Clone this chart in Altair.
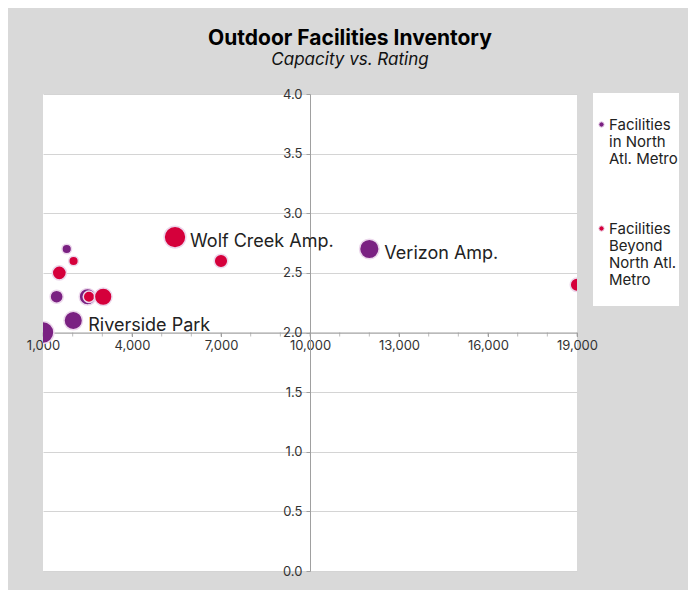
import altair as alt
import pandas as pd

series_names = ["Facilities in North Atl. Metro", "Facilities Beyond North Atl. Metro"]
series_colors = ["#7a2182", "#d5003b"]

# Facilities in North Atl. Metro
north_capacity = [1000, 1800, 1460, 2500, 2020, 12000]
north_rating = [2.0, 2.7, 2.3, 2.3, 2.1, 2.7]
north_bubble = [360, 70, 130, 210, 260, 290]
north_label = ["", "", "", "", "Riverside Park", "Verizon Amp."]

# Facilities Beyond North Atl. Metro
beyond_capacity = [2030, 1550, 2550, 3030, 5450, 7000, 19000]
beyond_rating = [2.6, 2.5, 2.3, 2.3, 2.8, 2.6, 2.4]
beyond_bubble = [70, 150, 100, 235, 360, 140, 140]
beyond_label = ["", "", "", "", "Wolf Creek Amp.", "", ""]

x_label_values = [1000, 4000, 7000, 10000, 13000, 16000, 19000]
x_minor_ticks = list(range(1000, 19001, 1000))
y_ticks = [0, 0.5, 1.0, 1.5, 2.0, 2.5, 3.0, 3.5, 4.0]
x_axis_crossing_rating = 2.0

rows = []
for name, caps, rats, bub, labs in [
    (series_names[0], north_capacity, north_rating, north_bubble, north_label),
    (series_names[1], beyond_capacity, beyond_rating, beyond_bubble, beyond_label),
]:
    for c, r, b, l in zip(caps, rats, bub, labs):
        rows.append({"series": name, "capacity": c, "rating": r, "bubble": b, "label": l})
df = pd.DataFrame(rows)
ticks_df = pd.DataFrame({"capacity": x_minor_ticks, "rating": [x_axis_crossing_rating] * len(x_minor_ticks)})

FONT = "Inter"
AXIS_GRAY = "#a0a0a0"

x_scale = alt.Scale(domain=[1000, 19000], nice=False, zero=False)
y_scale = alt.Scale(domain=[0, 4], nice=False)

x_enc = alt.X(
    "capacity:Q",
    scale=x_scale,
    axis=alt.Axis(
        title=None, values=x_label_values, orient="bottom", offset=-238.5,
        format=",.0f", grid=False, domainColor=AXIS_GRAY, tickColor=AXIS_GRAY, tickSize=4,
        labelFont=FONT, labelFontSize=13, labelColor="#333333", labelPadding=3,
        labelFlush=False, labelOverlap=False,
    ),
)
y_enc = alt.Y(
    "rating:Q",
    scale=y_scale,
    axis=alt.Axis(
        title=None, values=y_ticks, orient="left", offset=-267, format=".1f",
        grid=True, gridColor="#d4d4d4", domainColor=AXIS_GRAY, tickColor=AXIS_GRAY,
        tickSize=4, labelFont=FONT, labelFontSize=13, labelColor="#333333",
        labelPadding=4, labelFlush=False,
    ),
)

minor = alt.Chart(ticks_df).mark_tick(
    orient="vertical", size=4, thickness=1, color=AXIS_GRAY, yOffset=2
).encode(x=alt.X("capacity:Q", scale=x_scale), y=alt.Y("rating:Q", scale=y_scale))

points = alt.Chart(df).mark_circle(
    opacity=1, stroke="#ecd8ec", strokeWidth=1.5, clip=True
).encode(
    x=x_enc,
    y=y_enc,
    color=alt.Color(
        "series:N",
        scale=alt.Scale(domain=series_names, range=series_colors),
        legend=alt.Legend(
            title=" ", titleFontSize=10, titlePadding=13,
            orient="none", legendX=550, legendY=-1,
            fillColor="white", padding=1, rowPadding=54,
            symbolType="circle", symbolSize=28, symbolStrokeColor="#ecd8ec",
            symbolStrokeWidth=1, labelFont=FONT, labelFontSize=15,
            labelColor="#222222", labelBaseline="middle",
            labelOffset=0, labelLimit=200,
            labelExpr="datum.label == 'Facilities in North Atl. Metro' ? ['Facilities','in North','Atl. Metro'] : ['Facilities','Beyond','North Atl.','Metro','']",
        ),
    ),
    size=alt.Size("bubble:Q", scale=alt.Scale(domain=[0, 400], range=[0, 530]), legend=None),
)

labels = alt.Chart(df).transform_filter(alt.datum.label != "").mark_text(
    align="left", baseline="middle", dx=15, dy=5, font=FONT, fontSize=18, color="#222222"
).encode(x="capacity:Q", y="rating:Q", text="label:N")

chart = alt.layer(minor, points, labels).properties(
    width=534,
    height=477,
    autosize=alt.AutoSizeParams(type="none"),
    padding={"left": 35, "top": 86, "right": 111, "bottom": 19},
    background="#d9d9d9",
    title=alt.TitleParams(
        "Outdoor Facilities Inventory",
        subtitle="Capacity vs. Rating",
        font=FONT, fontSize=21, fontWeight="bold", color="#000000",
        subtitleFont=FONT, subtitleFontSize=17, subtitleFontStyle="italic",
        subtitleColor="#111111", subtitlePadding=3,
        anchor="middle", dx=40, offset=20,
    ),
).configure_view(fill="white", strokeWidth=0)

chart.save("out.html", embed_options={"renderer": "svg", "actions": False})
